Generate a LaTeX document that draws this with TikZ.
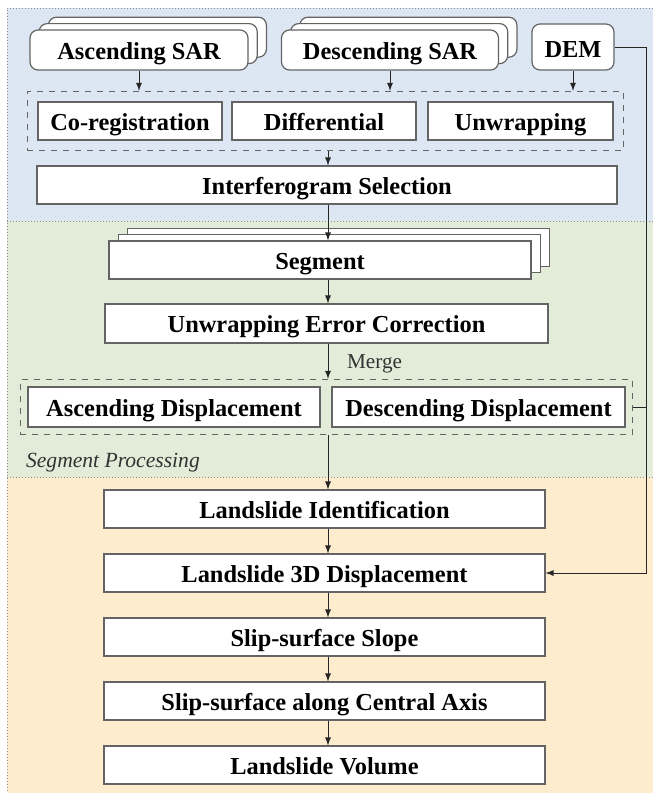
\documentclass[tikz,border=0pt]{standalone}
\usepackage{fontspec}
\setmainfont{Liberation Serif}
\usepackage{tikz}
\usetikzlibrary{positioning, fit, shadows}
\definecolor{panelblue}{RGB}{221,231,243}
\definecolor{panelgreen}{RGB}{226,236,216}
\definecolor{panelorange}{RGB}{253,236,206}
\definecolor{boxgray}{RGB}{100,100,100}
\tikzstyle{block} = [draw=boxgray, fill=white, rectangle, line width=0.6pt, minimum height=19pt, inner sep=0pt, text height=9.5pt, text depth=0.5pt, font=\fontsize{12.2}{14}\selectfont\bfseries]
\tikzstyle{source} = [block, rounded corners=4pt]
\tikzstyle{stacked} = [double copy shadow={shadow xshift=4.6pt, shadow yshift=3.2pt, draw=boxgray, fill=white, line width=0.6pt}]
\tikzstyle{group} = [draw=boxgray, dashed, line width=0.6pt, inner sep=5pt]
\tikzstyle{panel} = [draw=black!45, densely dotted, line width=0.5pt]
\tikzstyle{link} = [->, draw=black!85, line width=0.4pt]
\tikzstyle{rawlink} = [draw=black!85, line width=0.4pt]

\begin{document}
\begin{tikzpicture}[x=0.5pt, y=0.5pt, auto, node distance=32pt, >=latex]
	\useasboundingbox (0,0) rectangle (653,-793);
	\fill [panelblue] (7,-8) rectangle (653,-221);
	\fill [panelgreen] (7,-221) rectangle (653,-477);
	\fill [panelorange] (7,-477) rectangle (653,-800);
	\draw [panel] (653,-8) -- (7,-8) -- (7,-800);
	\draw [panel] (7,-221) -- (653,-221);
	\draw [panel] (7,-477) -- (653,-477);

	\coordinate (rail) at (646,0);
	\coordinate (spine) at (328,0);

	\node [source, stacked, minimum width=109pt, minimum height=20pt] (ascsar) at (139,-50) {Ascending SAR};
	\node [source, stacked, minimum width=108.5pt, minimum height=20pt] (descsar) at (390,-50) {Descending SAR};
	\node [source, minimum width=41pt, minimum height=23pt, text height=10.5pt] (dem) at (573,-47) {DEM};

	\node [block, minimum width=92pt] (coreg) at (130,-121) {Co-registration};
	\node [block, minimum width=92pt] (diff) at (324,-121) {Differential};
	\node [block, minimum width=92.5pt] (unwrap) at (520.5,-121) {Unwrapping};
	\node [group, fit=(coreg)(unwrap)] (prep) {};

	\node [block, minimum width=290pt] (interf) at (327,-185) {Interferogram Selection};

	\node [block, stacked, minimum width=211pt] (segment) at (320,-260) {Segment};
	\node [block, minimum width=221.5pt, minimum height=19.5pt] (uec) at (326.5,-323.5) {Unwrapping Error Correction};

	\node [block, minimum width=146pt, minimum height=20pt] (ascdisp) at (174,-407) {Ascending Displacement};
	\node [block, minimum width=146.5pt, minimum height=20pt] (descdisp) at (478.5,-407) {Descending Displacement};
	\node [group, fit=(ascdisp)(descdisp), inner sep=3.5pt] (disp) {};
	\node [anchor=west, text=black!80, font=\fontsize{10.6}{12}\selectfont] (merge) at (340,-364) {Merge};
	\node [anchor=west, text=black!80, font=\fontsize{10.8}{12}\selectfont\itshape] (seglabel) at (19,-463) {Segment Processing};

	\node [block, minimum width=220.5pt] (ident) at (324.5,-509) {Landslide Identification};
	\node [block, below of=ident, minimum width=220.5pt] (disp3d) {Landslide 3D Displacement};
	\node [block, below of=disp3d, minimum width=220.5pt] (slope) {Slip-surface Slope};
	\node [block, below of=slope, minimum width=220.5pt] (axis) {Slip-surface along Central Axis};
	\node [block, below of=axis, minimum width=220.5pt] (volume) {Landslide Volume};

	\draw [link] (ascsar.south) -- (ascsar.south |- prep.north);
	\draw [link] (descsar.south) -- (descsar.south |- prep.north);
	\draw [link] (dem.south) -- (dem.south |- prep.north);
	\draw [link] (spine |- prep.south) -- (spine |- interf.north);
	\draw [link] (spine |- interf.south) -- (spine |- segment.north);
	\draw [link] (spine |- segment.south) -- (spine |- uec.north);
	\draw [link] (spine |- uec.south) -- (spine |- disp.north);
	\draw [link] (spine |- disp.south) -- (spine |- ident.north);
	\draw [link] (spine |- ident.south) -- (spine |- disp3d.north);
	\draw [link] (spine |- disp3d.south) -- (spine |- slope.north);
	\draw [link] (spine |- slope.south) -- (spine |- axis.north);
	\draw [link] (spine |- axis.south) -- (spine |- volume.north);

	\draw [link] (dem.east) -- (dem.east -| rail) |- (disp3d.east);
	\draw [rawlink] (disp.east) -- (disp.east -| rail);
\end{tikzpicture}
\end{document}
